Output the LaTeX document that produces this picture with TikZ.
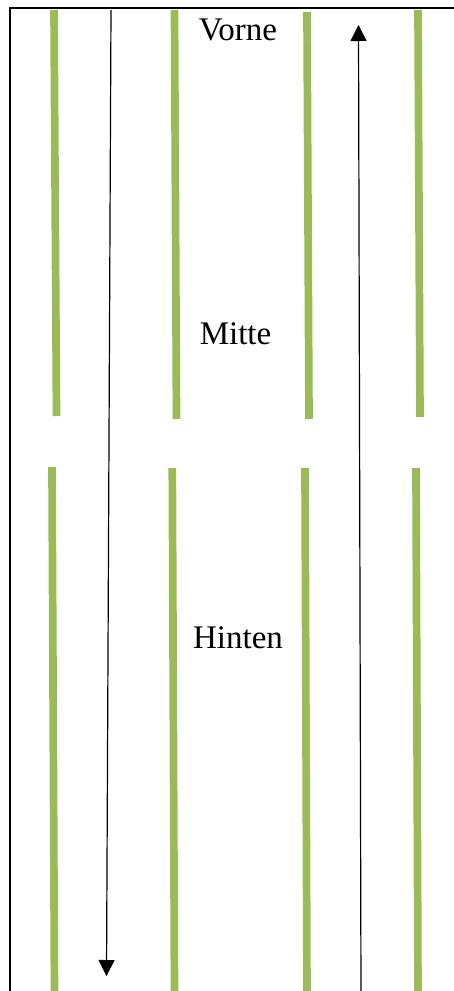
\documentclass[tikz,border=0pt]{standalone}
\usepackage{fontspec}
\setmainfont{Liberation Serif}
\usetikzlibrary{arrows.meta}
\definecolor{stripgreen}{HTML}{9BBB59}
\tikzset{
  strip/.style={draw=stripgreen, line width=7.7pt, line cap=butt},
  dirarrow/.style={draw=black, line width=1.2pt, -{Triangle[length=16pt,width=16pt]}},
  frameline/.style={draw=black, line width=2pt},
  zone/.style={font=\fontsize{33}{40}\selectfont, anchor=base, inner sep=0pt}
}
\begin{document}
\begin{tikzpicture}[x=1pt,y=-1pt]
\useasboundingbox (0,0) rectangle (454,991);
% frame
\coordinate (fTR) at (460,8);
\coordinate (fTL) at (10,8);
\coordinate (fBL) at (10,997);
\draw[frameline] (fTR) -- (fTL) -- (fBL);
% upper strips
\coordinate (u1a) at (54,10);   \coordinate (u1b) at (56.5,416);
\coordinate (u2a) at (174.5,10); \coordinate (u2b) at (176.5,419);
\coordinate (u3a) at (307,12);  \coordinate (u3b) at (309,419);
\coordinate (u4a) at (418,10);  \coordinate (u4b) at (420,417);
\draw[strip] (u1a) -- (u1b);
\draw[strip] (u2a) -- (u2b);
\draw[strip] (u3a) -- (u3b);
\draw[strip] (u4a) -- (u4b);
% lower strips
\coordinate (l1a) at (52,467);   \coordinate (l1b) at (54.5,995);
\coordinate (l2a) at (172.3,468); \coordinate (l2b) at (174.5,995);
\coordinate (l3a) at (305,468);  \coordinate (l3b) at (307,995);
\coordinate (l4a) at (416,468);  \coordinate (l4b) at (418,995);
\draw[strip] (l1a) -- (l1b);
\draw[strip] (l2a) -- (l2b);
\draw[strip] (l3a) -- (l3b);
\draw[strip] (l4a) -- (l4b);
% arrows
\coordinate (a1s) at (111,10);
\coordinate (a1e) at (106.5,976);
\coordinate (a2s) at (361,995);
\coordinate (a2e) at (358.5,25);
\draw[dirarrow] (a1s) -- (a1e);
\draw[dirarrow] (a2s) -- (a2e);
% labels
\node[zone] (vorne) at (238,40) {Vorne};
\node[zone] (mitte) at (235.5,344) {Mitte};
\node[zone] (hinten) at (238,648) {Hinten};
\end{tikzpicture}
\end{document}
